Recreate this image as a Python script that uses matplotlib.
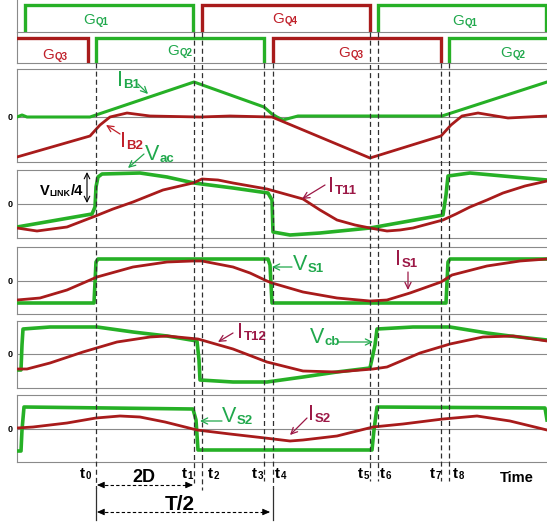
import matplotlib
matplotlib.use('Agg')
import matplotlib.pyplot as plt

plt.rcParams['font.family'] = ['Liberation Sans', 'DejaVu Sans']

# ---------------- data (time in arbitrary units) ----------------
t_marks = [96, 194, 202, 264, 273, 370, 378, 441, 449]
t_names = ['0', '1', '2', '3', '4', '5', '6', '7', '8']

# gate signals: list of (on, off) intervals
gq1_on = [(25, 193), (378, 546)]
gq4_on = [(202, 370)]
gq3_on = [(10, 88), (273, 441)]
gq2_on = [(96, 264), (449, 560)]

ib1_t = [17, 22, 27, 90, 194, 264, 272, 277, 283, 298, 442, 547]
ib1_v = [0, 2, 0, 0, 35, 10, 3, 0, -3, 1, 1, 35]
ib2_t = [17, 90, 100, 110, 127, 150, 200, 230, 272, 370, 441, 451, 462, 478, 508, 547]
ib2_v = [-40, -19, -8, 0, 4, 1, 0, 1, 0, -41, -19, -8, 1, 4, -1, 1]

vac_t = [17, 92, 95, 96, 98, 102, 140, 167, 194, 233, 268, 272, 273, 290, 320, 370,
         443, 446, 448, 470, 503, 547]
vac_v = [-23, -10, -3, 17, 27, 30, 31, 27, 21, 16, 11, 4, -28, -31, -29, -24,
         -11, 9, 28, 31, 28, 24]
it11_t = [17, 37, 67, 93, 113, 133, 163, 193, 202, 218, 233, 250, 267, 285, 303, 320,
          337, 355, 370, 387, 400, 413, 443, 456, 470, 487, 503, 525, 547]
it11_v = [-24, -27, -23, -13, -5, 2, 14, 21, 25, 24, 21, 18, 15, 10, 5, -6,
          -16, -21, -24, -27, -26, -24, -16, -10, -3, 4, 11, 18, 23]

vs1_t = [17, 94, 96, 98, 268, 270, 272, 446, 448, 450, 547]
vs1_v = [-22, -22, 19, 22, 22, 16, -22, -22, 19, 22, 22]
is1_t = [17, 40, 67, 97, 133, 167, 193, 202, 233, 250, 267, 272, 303, 337, 370, 387,
         410, 441, 452, 487, 520, 547]
is1_v = [-19, -17, -9, 4, 14, 19, 20, 20, 14, 8, 0, -2, -11, -17, -20, -19,
         -12, -1, 6, 15, 20, 22]

vcb_t = [17, 21, 22, 23, 50, 97, 133, 167, 197, 199, 200, 233, 267, 303, 337, 370,
         375, 377, 413, 450, 487, 510, 547]
vcb_v = [-16, -16, 9, 25, 27, 27, 22, 18, 13, -6, -26, -28, -28, -23, -18, -14,
         9, 25, 27, 27, 21, 18, 14]
it12_t = [17, 27, 50, 83, 117, 150, 167, 198, 233, 267, 303, 337, 373, 387, 420, 450,
          483, 513, 547]
it12_v = [-15, -15, -9, 2, 12, 17, 18, 15, 5, -8, -17, -18, -15, -13, 1, 10,
          17, 18, 13]

vs2_t = [17, 21, 22, 24, 193, 196, 198, 372, 374, 377, 545, 547]
vs2_v = [-22, -22, -1, 22, 20, 9, -21, -21, -1, 22, 21, 9]
is2_t = [17, 33, 67, 96, 120, 140, 165, 197, 230, 265, 290, 303, 337, 373, 403, 443,
         477, 510, 547]
is2_v = [1, 2, 6, 11, 13, 12, 7, -1, -5, -9, -12, -11, -7, 2, 5, 10, 13, 8, -1]

# ---------------- style ----------------
W, H = 547, 522
X0, X1 = 17, 547
GRAY = '#8a8a8a'
GRN = '#26b026'
RED = '#a81b1b'
GTXT = '#20a84c'
RTXT = '#c0202a'
MTXT = '#9c1846'

fig = plt.figure(figsize=(W / 100, H / 100), dpi=100)


def panel(top, bottom, ylim, topspine=True, zero=True):
    ax = fig.add_axes([X0 / W, 1 - bottom / H, (X1 - X0) / W, (bottom - top) / H])
    ax.set_xlim(X0, X1)
    ax.set_ylim(*ylim)
    ax.set_xticks([])
    ax.set_yticks([])
    ax.patch.set_alpha(0)
    for k, s in ax.spines.items():
        s.set_color(GRAY)
        s.set_linewidth(0.8)
    ax.spines['right'].set_visible(False)
    if not topspine:
        ax.spines['top'].set_visible(False)
    if zero:
        ax.axhline(0, color=GRAY, lw=0.8, zorder=1)
        ax.text(-0.0135, 0, '0', transform=ax.get_yaxis_transform(), ha='center',
                va='center', fontsize=6.5, fontweight='bold', clip_on=False)
    return ax


def gate(ax, intervals, color):
    for a, b in intervals:
        ax.plot([a, a, b, b], [0, 1, 1, 0], color=color, lw=2.4,
                solid_joinstyle='miter', zorder=3)


g1 = panel(0, 32, (0, 32 / 27), topspine=False, zero=False)
g2 = panel(32, 63, (0, 31 / 25), topspine=False, zero=False)
gate(g1, gq1_on, GRN)
gate(g1, gq4_on, RED)
gate(g2, gq3_on, RED)
gate(g2, gq2_on, GRN)

a1 = panel(69, 162, (-45, 48))
a1.plot(ib1_t, ib1_v, color=GRN, lw=2.2, zorder=3)
a1.plot(ib2_t, ib2_v, color=RED, lw=2.0, zorder=3)

a2 = panel(170, 238, (-34, 34))
a2.plot(vac_t, vac_v, color=GRN, lw=2.6, zorder=3)
a2.plot(it11_t, it11_v, color=RED, lw=2.0, zorder=4)

a3 = panel(247, 314, (-33, 34))
a3.plot(vs1_t, vs1_v, color=GRN, lw=2.6, zorder=3)
a3.plot(is1_t, is1_v, color=RED, lw=2.0, zorder=4)

a4 = panel(321, 388, (-34, 33))
a4.plot(vcb_t, vcb_v, color=GRN, lw=2.6, zorder=3)
a4.plot(it12_t, it12_v, color=RED, lw=2.0, zorder=4)

a5 = panel(395, 462, (-33, 34))
a5.plot(vs2_t, vs2_v, color=GRN, lw=2.6, zorder=3)
a5.plot(is2_t, is2_v, color=RED, lw=2.0, zorder=4)

# ---------------- overlay for annotations ----------------
ov = fig.add_axes([0, 0, 1, 1])
ov.set_xlim(0, W)
ov.set_ylim(H, 0)
ov.axis('off')
ov.patch.set_alpha(0)

DASH = (0, (4, 2.5))
tops = [63, 32, 32, 63, 63, 32, 32, 63, 63]
bots = [488, 483, 490, 481, 488, 481, 481, 481, 481]
for x, tp, bt in zip(t_marks, tops, bots):
    ov.plot([x, x], [tp, bt], color='#303030', lw=0.9, linestyle=DASH, zorder=5)
for x in (t_marks[0], t_marks[4]):
    ov.plot([x, x], [488, 520], color='#303030', lw=0.9, zorder=5)


def sublabel(x, y, main, sub, color, fs=15.5, sfs=9.5, mw='normal', sw='bold', dy=0.0):
    t = ov.text(x, y, main, color=color, fontsize=fs, fontweight=mw,
                ha='left', va='baseline', zorder=6)
    ov.annotate(sub, xy=(1, 0), xycoords=t, xytext=(0.3, dy),
                textcoords='offset points', color=color, fontsize=sfs,
                fontweight=sw, ha='left', va='bottom', zorder=6)
    return t


def arrow(tail, head, color, lw=0.9):
    ov.annotate('', xy=head, xytext=tail,
                arrowprops=dict(arrowstyle='->,head_length=0.45,head_width=0.22',
                                color=color, lw=lw, shrinkA=0, shrinkB=0), zorder=6)


# gate labels
sublabel(83, 24, 'G', 'Q1', GTXT, fs=11, sfs=7)
sublabel(272, 23, 'G', 'Q4', RTXT, fs=11, sfs=7)
sublabel(452, 25, 'G', 'Q1', GTXT, fs=11, sfs=7)
sublabel(42, 59, 'G', 'Q3', RTXT, fs=11, sfs=7)
sublabel(167, 55, 'G', 'Q2', GTXT, fs=11, sfs=7)
sublabel(338, 57, 'G', 'Q3', RTXT, fs=11, sfs=7)
sublabel(500, 57, 'G', 'Q2', GTXT, fs=11, sfs=7)

# waveform labels
sublabel(117, 86, 'I', 'B1', GTXT)
arrow((138, 84), (148, 94), GTXT)
sublabel(120, 147, 'I', 'B2', RTXT)
arrow((120, 134), (106, 125), RTXT)
sublabel(145, 160, 'V', 'ac', GTXT)
arrow((144, 154), (128, 168), GTXT)
sublabel(328, 192, 'I', 'T11', MTXT)
arrow((325, 185), (302, 199), MTXT)
sublabel(293, 270, 'V', 'S1', GTXT)
arrow((292, 267), (272, 267), GTXT)
sublabel(395, 265, 'I', 'S1', MTXT)
arrow((408, 272), (408, 290), MTXT)
sublabel(237, 338, 'I', 'T12', MTXT)
arrow((233, 333), (218, 342), MTXT)
sublabel(310, 343, 'V', 'cb', GTXT)
arrow((338, 342), (373, 342), GTXT)
sublabel(222, 422, 'V', 'S2', GTXT)
arrow((222, 421), (200, 421), GTXT)
sublabel(308, 420, 'I', 'S2', MTXT)
arrow((307, 418), (290, 435), MTXT)

# V_LINK/4
vl = ov.text(40, 195, 'V', fontsize=10.5, fontweight='bold', ha='left', va='baseline')
vs = ov.annotate('LINK', xy=(1, 0), xycoords=vl, xytext=(0, 0), textcoords='offset points',
                 fontsize=6.5, fontweight='bold', ha='left', va='bottom')
ov.annotate('/4', xy=(1, 0), xycoords=vs, xytext=(0, 0.3), textcoords='offset points',
            fontsize=10.5, fontweight='bold', ha='left', va='bottom')
ov.annotate('', xy=(87, 172), xytext=(87, 203),
            arrowprops=dict(arrowstyle='<->,head_length=0.4,head_width=0.2',
                            color='k', lw=0.8, shrinkA=0, shrinkB=0))

# time labels
t_lab_x = [80, 182, 208, 252, 275, 358, 380, 430, 453]
for x, n in zip(t_lab_x, t_names):
    sublabel(x, 478, 't', n, 'k', fs=11, sfs=7, mw='bold', sw='bold')
ov.text(500, 482, 'Time', fontsize=10.5, fontweight='bold', ha='left', va='baseline')


def dim_arrow(xa, xb, y):
    ov.plot([xa + 2, xb - 2], [y, y], color='k', lw=0.8, linestyle=(0, (3, 2)))
    for tail, head in (((xa + 6, y), (xa, y)), ((xb - 6, y), (xb, y))):
        ov.annotate('', xy=head, xytext=tail,
                    arrowprops=dict(arrowstyle='-|>,head_length=0.45,head_width=0.2',
                                    color='k', lw=0.6, shrinkA=0, shrinkB=0))


dim_arrow(t_marks[0] + 1, t_marks[1] - 1, 485)
ov.text(132, 482, '2D', fontsize=13, fontweight='bold', ha='left', va='baseline')
dim_arrow(t_marks[0] + 1, t_marks[4] - 3, 512)
ov.text(165, 510, 'T/2', fontsize=15, fontweight='bold', ha='left', va='baseline')

fig.savefig('out.png', dpi=100)
